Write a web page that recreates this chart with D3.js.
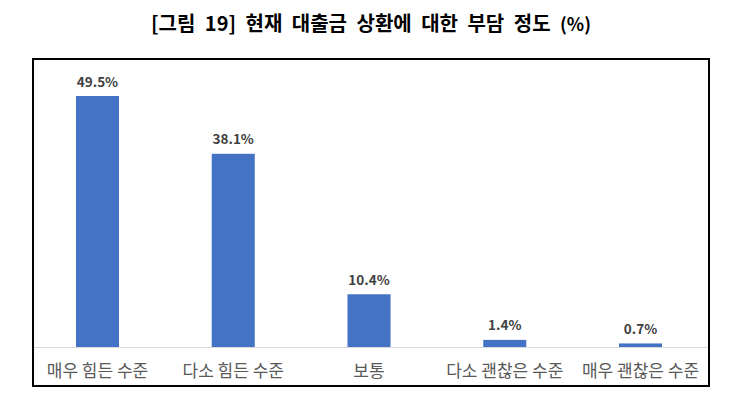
<!DOCTYPE html>
<html>
<head>
<meta charset="utf-8">
<script src="https://cdn.jsdelivr.net/npm/d3@7"></script>
<style>
  body { margin: 0; background: #fff; }
  svg { display: block; }
  text { font-family: "Noto Sans CJK KR", "Noto Sans", sans-serif; }
</style>
</head>
<body>
<svg id="chart" width="745" height="410"></svg>
<script>
// Data
const categories = ['매우 힘든 수준', '다소 힘든 수준', '보통', '다소 괜찮은 수준', '매우 괜찮은 수준'];
const values = [49.5, 38.1, 10.4, 1.4, 0.7];
const valueLabels = ['49.5%', '38.1%', '10.4%', '1.4%', '0.7%'];
const titleText = '[그림 19] 현재 대출금 상환에 대한 부담 정도';
const titleUnit = '(%)';

const width = 745;
const height = 410;
const svg = d3.select('#chart');

svg.append('rect')
  .attr('width', width)
  .attr('height', height)
  .attr('fill', '#fff');

// Title - words spread apart like the original
const title = svg.append('text')
  .attr('x', 371)
  .attr('y', 31)
  .attr('text-anchor', 'middle')
  .attr('font-size', 20)
  .attr('font-weight', 'bold')
  .attr('fill', '#000');
title.append('tspan').text(titleText + ' ');
title.append('tspan').attr('font-size', 18).text(titleUnit);
const natural = title.node().getComputedTextLength();
const gaps = (titleText + ' ' + titleUnit).split(' ').length - 1;
title.attr('word-spacing', Math.max(0, (440 - natural) / gaps));

// Frame around the plot
svg.append('rect')
  .attr('x', 33)
  .attr('y', 59)
  .attr('width', 676)
  .attr('height', 327)
  .attr('fill', 'none')
  .attr('stroke', '#000')
  .attr('stroke-width', 2);

// Scales
const x = d3.scaleBand()
  .domain(categories)
  .range([29.6, 708.4])
  .paddingInner(0.683)
  .paddingOuter(0.3415);

const y = d3.scaleLinear()
  .domain([0, 49.5])
  .range([347, 96]);

// Bars
svg.append('g')
  .selectAll('rect')
  .data(values)
  .join('rect')
  .attr('x', (d, i) => x(categories[i]))
  .attr('y', d => y(d))
  .attr('width', x.bandwidth())
  .attr('height', d => y(0) - y(d))
  .attr('fill', '#4472C4');

// Baseline axis
const xAxis = svg.append('g')
  .attr('transform', `translate(0,${y(0)})`)
  .call(d3.axisBottom(x).tickSize(0).tickPadding(18));
xAxis.select('.domain')
  .attr('stroke', '#d9d9d9')
  .attr('stroke-width', 1)
  .attr('d', 'M34,0.5H708');
xAxis.selectAll('text')
  .attr('font-family', '"Noto Sans CJK KR", sans-serif')
  .attr('font-size', 17)
  .attr('fill', '#595959');

// Value labels
svg.append('g')
  .selectAll('text')
  .data(values)
  .join('text')
  .attr('x', (d, i) => x(categories[i]) + x.bandwidth() / 2)
  .attr('y', d => y(d) - 9.5)
  .attr('text-anchor', 'middle')
  .attr('font-family', '"Noto Sans", sans-serif')
  .attr('font-size', 13.5)
  .attr('font-weight', 'bold')
  .attr('fill', '#404040')
  .text((d, i) => valueLabels[i]);
</script>
</body>
</html>
